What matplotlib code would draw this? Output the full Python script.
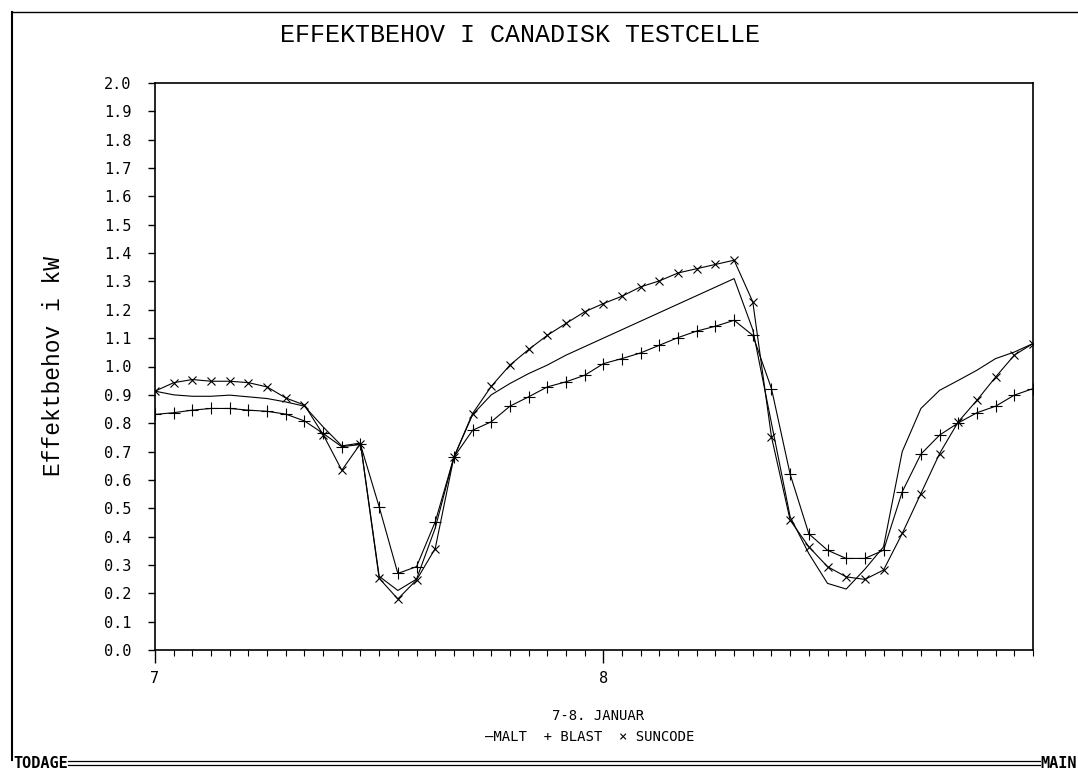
import numpy as np
import matplotlib.pyplot as plt
from matplotlib.lines import Line2D

# hourly values, 7-8 January (hour 0 = start of the 7th)
hours = list(range(48))

malt = [0.913, 0.90, 0.895, 0.895, 0.899, 0.893, 0.887, 0.875, 0.86, 0.787,
        0.72, 0.73, 0.26, 0.21, 0.25, 0.43, 0.68, 0.83, 0.90, 0.94,
        0.975, 1.005, 1.04, 1.07, 1.10, 1.13, 1.16, 1.19, 1.22, 1.25,
        1.28, 1.31, 1.13, 0.80, 0.47, 0.34, 0.235, 0.215, 0.285, 0.364,
        0.70, 0.852, 0.916, 0.951, 0.987, 1.028, 1.051, 1.081]

blast = [0.831, 0.837, 0.846, 0.852, 0.852, 0.846, 0.842, 0.832, 0.808, 0.764,
         0.717, 0.725, 0.505, 0.27, 0.294, 0.452, 0.68, 0.775, 0.805, 0.86,
         0.893, 0.928, 0.946, 0.969, 1.01, 1.028, 1.048, 1.075, 1.102, 1.125,
         1.142, 1.163, 1.11, 0.922, 0.62, 0.41, 0.352, 0.323, 0.323, 0.352,
         0.558, 0.691, 0.758, 0.801, 0.837, 0.86, 0.899, 0.922]

suncode = [0.913, 0.943, 0.954, 0.948, 0.948, 0.943, 0.928, 0.889, 0.864, 0.76,
           0.634, 0.728, 0.253, 0.18, 0.247, 0.358, 0.68, 0.834, 0.93, 1.005,
           1.06, 1.11, 1.152, 1.193, 1.222, 1.248, 1.281, 1.302, 1.33, 1.345,
           1.36, 1.375, 1.228, 0.752, 0.458, 0.364, 0.294, 0.258, 0.249, 0.282,
           0.411, 0.552, 0.693, 0.805, 0.881, 0.963, 1.04, 1.081]

day_ticks = [0, 24]
day_labels = ["7", "8"]
y_ticks = [round(0.1 * i, 1) for i in range(21)]

mono = "Liberation Mono"
dots = "DejaVu Sans Mono"

fig = plt.figure(figsize=(10.78, 7.73), dpi=100)
ax = fig.add_axes([155 / 1078, 1 - 650 / 773, 878 / 1078, (650 - 83) / 773])

ax.plot(hours, malt, color="black", linewidth=0.8)
ax.plot(hours, blast, color="black", linewidth=0.8, marker="+",
        markersize=8, markeredgewidth=0.8)
ax.plot(hours, suncode, color="black", linewidth=0.8, marker="x",
        markersize=6, markeredgewidth=0.8)

ax.set_xlim(0, 47)
ax.set_ylim(0, 2.0)

ax.set_xticks(day_ticks)
ax.set_xticklabels(day_labels, fontfamily=dots, fontsize=11)
ax.set_xticks(hours, minor=True)
ax.tick_params(axis="x", which="major", direction="out", length=9, width=1, pad=6)
ax.tick_params(axis="x", which="minor", direction="out", length=4, width=0.8)

ax.set_yticks(y_ticks)
ax.set_yticklabels([f"{v:.1f}" for v in y_ticks], fontfamily=dots, fontsize=11)
ax.tick_params(axis="y", direction="out", length=5, width=1, pad=12)

for side in ax.spines.values():
    side.set_linewidth(1.2)

ax.set_ylabel("Effektbehov i kW", fontfamily=mono, fontsize=16.5, labelpad=28)

fig.text(520 / 1078, 1 - 35 / 773, "EFFEKTBEHOV I CANADISK TESTCELLE",
         ha="center", va="center", fontfamily=mono, fontsize=18)
fig.text(598 / 1078, 1 - 716 / 773, "7-8. JANUAR",
         ha="center", va="center", fontfamily=dots, fontsize=10)
fig.text(590 / 1078, 1 - 737 / 773, "\u2014MALT  + BLAST  \u00d7 SUNCODE",
         ha="center", va="center", fontfamily=dots, fontsize=10)

# page frame with the bottom menu bar
fig.add_artist(Line2D([12 / 1078, 12 / 1078], [1 - 12 / 773, 1 - 760 / 773],
                      color="black", linewidth=1.5))
fig.add_artist(Line2D([12 / 1078, 1.0], [1 - 12 / 773, 1 - 12 / 773],
                      color="black", linewidth=1.0))
for yy in (761, 765):
    fig.add_artist(Line2D([68 / 1078, 1040 / 1078], [1 - yy / 773, 1 - yy / 773],
                          color="black", linewidth=0.9))
fig.text(13 / 1078, 1 - 763 / 773, "TODAGE", ha="left", va="center",
         fontfamily=dots, fontsize=11, fontweight="bold")
fig.text(1040 / 1078, 1 - 763 / 773, "MAIN", ha="left", va="center",
         fontfamily=dots, fontsize=11, fontweight="bold")

fig.savefig("out.png", dpi=100)
